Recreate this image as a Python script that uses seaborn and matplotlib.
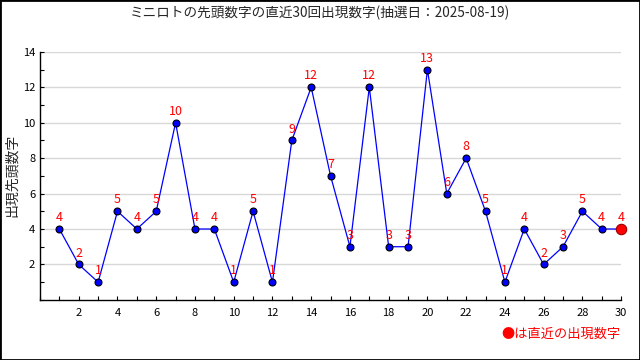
import matplotlib
matplotlib.use('Agg')
import matplotlib.pyplot as plt
import seaborn as sns
import pandas as pd
from matplotlib.ticker import MultipleLocator

# データ
kaisu = list(range(1, 31))
sento = [4, 2, 1, 5, 4, 5, 10, 4, 4, 1, 5, 1, 9, 12, 7, 3, 12, 3, 3, 13,
         6, 8, 5, 1, 4, 2, 3, 5, 4, 4]
title = 'ミニロトの先頭数字の直近30回出現数字(抽選日：2025-08-19)'

df = pd.DataFrame({'kaisu': kaisu, 'sento': sento})

sns.set_style('white')
plt.rcParams['font.family'] = ['Noto Sans CJK JP', 'DejaVu Sans']

fig = plt.figure(figsize=(6.4, 3.6), dpi=100)
ax = fig.add_axes([0.0625, 0.167, 0.908, 0.689])

sns.lineplot(data=df, x='kaisu', y='sento', ax=ax, color='blue', linewidth=0.9,
             marker='o', markersize=5, markerfacecolor='blue',
             markeredgecolor='black', markeredgewidth=0.8)
# 直近の回
ax.plot(df['kaisu'].iloc[-1], df['sento'].iloc[-1], 'o', color='red',
        markersize=7.5, markeredgecolor='#990000', markeredgewidth=0.8,
        clip_on=False, zorder=5)

for x, y in zip(df['kaisu'], df['sento']):
    ax.annotate(str(y), (x, y), xytext=(0, 3.5), textcoords='offset points',
                ha='center', va='bottom', color='red', fontsize=9)

ax.set_xlim(0, 30)
ax.set_ylim(0, 14)
ax.xaxis.set_minor_locator(MultipleLocator(1))
ax.yaxis.set_minor_locator(MultipleLocator(1))
ax.set_xticks(range(2, 31, 2))
ax.set_yticks(range(2, 15, 2))
ax.tick_params(which='both', direction='in', length=3, width=0.8,
               labelsize=8, colors='black', bottom=True, left=True)
ax.tick_params(axis='x', pad=6)
ax.grid(axis='y', color='#d8d8d8', linewidth=1)
ax.set_axisbelow(True)
for s in ['top', 'right']:
    ax.spines[s].set_visible(False)
for s in ['left', 'bottom']:
    ax.spines[s].set_color('black')
    ax.spines[s].set_linewidth(1)

ax.set_xlabel('')
ax.set_ylabel('出現先頭数字', fontsize=10)
ax.yaxis.set_label_coords(-0.048, 0.5)
ax.yaxis.label.set_va('center')

fig.text(0.5, 0.965, title, ha='center', va='center', fontsize=9.8)
fig.text(0.97, 0.07, '●は直近の出現数字', ha='right', va='center',
         color='red', fontsize=9.5)

# 外枠
fig.patches.append(plt.Rectangle((0, 0), 1, 1, transform=fig.transFigure,
                                 fill=False, edgecolor='black', linewidth=2))

fig.savefig('out.png', dpi=100)
